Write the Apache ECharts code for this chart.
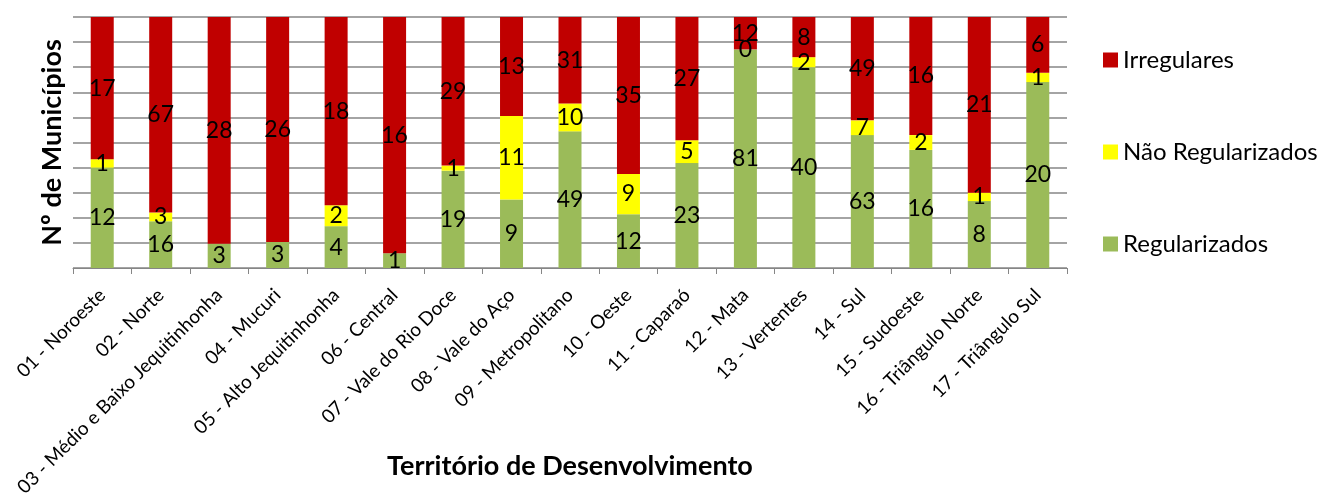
<!DOCTYPE html>
<html>
<head>
<meta charset="utf-8">
<script src="https://cdn.jsdelivr.net/npm/echarts@6/dist/echarts.min.js"></script>
<style>
html, body { margin: 0; padding: 0; background: #fff; }
#chart { width: 1323px; height: 498px; }
</style>
</head>
<body>
<div id="chart"></div>
<script>
const territorios = [
  "01 - Noroeste", "02 - Norte", "03 - Médio e Baixo Jequitinhonha", "04 - Mucuri",
  "05 - Alto Jequitinhonha", "06 - Central", "07 - Vale do Rio Doce", "08 - Vale do Aço",
  "09 - Metropolitano", "10 - Oeste", "11 - Caparaó", "12 - Mata", "13 - Vertentes",
  "14 - Sul", "15 - Sudoeste", "16 - Triângulo Norte", "17 - Triângulo Sul"
];
const regularizados = [12, 16, 3, 3, 4, 1, 19, 9, 49, 12, 23, 81, 40, 63, 16, 8, 20];
// null = no label in the original (segment absent)
const naoRegularizados = [1, 3, null, null, 2, null, 1, 11, 10, 9, 5, 0, 2, 7, 2, 1, 1];
const irregulares = [17, 67, 28, 26, 18, 16, 29, 13, 31, 35, 27, 12, 8, 49, 16, 21, 6];

const totals = territorios.map((_, i) =>
  regularizados[i] + (naoRegularizados[i] || 0) + irregulares[i]);

// 100% stacked: convert to shares, keep raw count for the label
function toShare(arr) {
  return arr.map((v, i) => v == null ? { value: '-', raw: null } : { value: v / totals[i] * 100, raw: v });
}

const labelFont = "Lato, 'Noto Sans', sans-serif";
const segLabel = {
  show: true,
  position: 'inside',
  color: '#000',
  fontSize: 23,
  fontFamily: labelFont,
  formatter: p => p.data.raw == null ? '' : String(p.data.raw)
};

const chart = echarts.init(document.getElementById('chart'));
chart.setOption({
  animation: false,
  textStyle: { fontFamily: labelFont },
  grid: { left: 73, right: 256, top: 17, bottom: 230, containLabel: false, outerBoundsMode: 'none' },
  legend: {
    orient: 'vertical',
    left: 1098,
    top: 43,
    itemWidth: 15,
    itemHeight: 15,
    itemGap: 68,
    icon: 'rect',
    textStyle: { fontSize: 24, color: '#000', fontFamily: labelFont },
    data: ['Irregulares', 'Não Regularizados', 'Regularizados']
  },
  xAxis: {
    type: 'category',
    data: territorios,
    name: 'Território de Desenvolvimento',
    nameLocation: 'middle',
    nameGap: 185,
    nameMoveOverlap: false,
    nameTextStyle: { fontSize: 27, fontWeight: 'bold', color: '#000' },
    axisLine: { lineStyle: { color: '#868686' } },
    axisTick: { show: true, length: 6, lineStyle: { color: '#868686' } },
    axisLabel: { rotate: 45, fontSize: 19, color: '#000', margin: 24, interval: 0, hideOverlap: false }
  },
  yAxis: {
    type: 'value',
    min: 0,
    max: 100,
    interval: 10,
    name: 'Nº de Municípios',
    nameLocation: 'middle',
    nameGap: 7,
    nameTextStyle: { fontSize: 27, fontWeight: 'bold', color: '#000' },
    axisLine: { show: false },
    axisTick: { show: false },
    axisLabel: { show: false },
    splitLine: { lineStyle: { color: '#868686', width: 1.5 } }
  },
  series: [
    {
      name: 'Regularizados', type: 'bar', stack: 'total', barWidth: 23,
      itemStyle: { color: '#9BBB59' }, label: segLabel, data: toShare(regularizados)
    },
    {
      name: 'Não Regularizados', type: 'bar', stack: 'total', barWidth: 23,
      itemStyle: { color: '#FFFF00' }, label: segLabel, data: toShare(naoRegularizados)
    },
    {
      name: 'Irregulares', type: 'bar', stack: 'total', barWidth: 23,
      itemStyle: { color: '#C00000' }, label: segLabel, data: toShare(irregulares)
    }
  ]
});
</script>
</body>
</html>
